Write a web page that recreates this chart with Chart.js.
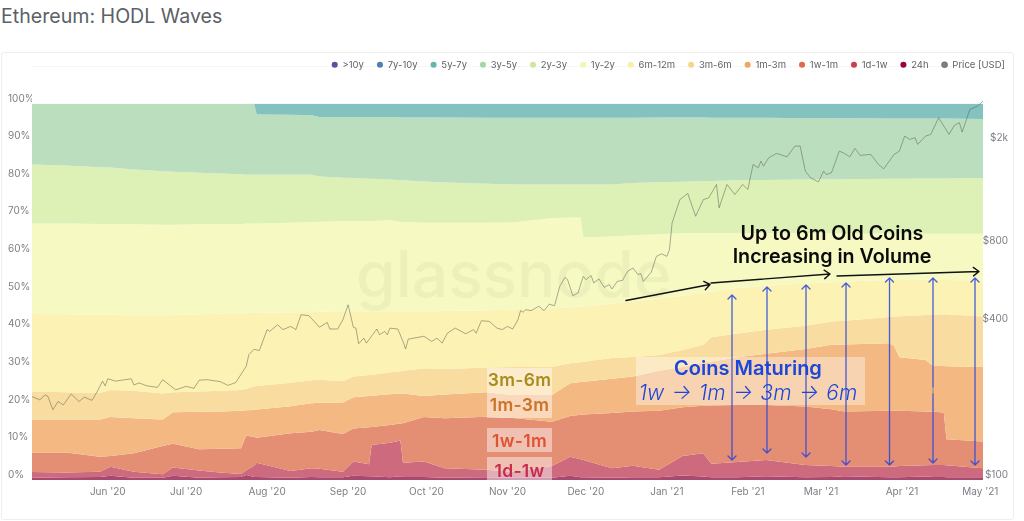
<!DOCTYPE html>
<html>
<head>
<meta charset="utf-8">
<title>Ethereum: HODL Waves</title>
<script src="https://cdn.jsdelivr.net/npm/chart.js@4"></script>
<style>
html,body{margin:0;padding:0;background:#fff;width:1024px;height:521px;overflow:hidden;font-family:Inter,sans-serif}
#title{position:absolute;left:1px;top:4px;font-size:19.6px;line-height:24px;color:#5b6067}
#panel{position:absolute;left:1px;top:52px;width:1011px;height:466px;border:1px solid #eeeeee;border-radius:3px}
#topline{position:absolute;left:32px;top:66px;width:951px;height:1px;background:#f6f6f6}
canvas{position:absolute;left:0;top:0}
#mark{position:absolute;left:356px;top:242px;font-size:64px;line-height:64px;font-weight:500;color:rgba(110,110,90,.07)}
.note{position:absolute;text-align:center;white-space:nowrap}
.black{font-weight:600;color:#0a0a0a;font-size:19.7px;line-height:23px;left:720px;width:224px}
.age{left:487px;width:65px;background:rgba(255,255,255,.45);font-weight:600;font-size:17.5px;letter-spacing:.3px}
#matureBox{position:absolute;left:636px;top:357px;width:229px;height:48px;background:rgba(255,255,255,.38)}
svg{position:absolute;left:0;top:0}
</style>
</head>
<body>
<div id="title">Ethereum: HODL Waves</div>
<div id="panel"></div>
<div id="topline"></div>
<canvas id="wavesChart" width="1024" height="521"></canvas>
<div id="mark">glassnode</div>
<div id="matureBox"></div>
<div class="note age" style="top:368px;height:24px;line-height:24px;color:#a98c1f">3m-6m</div>
<div class="note age" style="top:392px;height:26px;line-height:26px;color:#c8742b">1m-3m</div>
<div class="note age" style="top:428px;height:24px;line-height:26px;color:#df5332">1w-1m</div>
<div class="note age" style="top:457px;height:23px;line-height:27px;color:#c72c4c">1d-1w</div>
<svg id="arrows" width="1024" height="521" fill="none"></svg>
<div class="note black" style="top:222px">Up to 6m Old Coins</div>
<div class="note black" style="top:245px">Increasing in Volume</div>
<div class="note" style="left:636px;width:224px;top:356px;font-size:20px;line-height:24px;font-weight:600;color:#1c46d8">Coins Maturing</div>
<div class="note" style="left:636px;width:224px;top:380px;font-size:21px;line-height:26px;font-style:italic;font-weight:300;word-spacing:1.5px;color:#1c46d8">1w → 1m → 3m → 6m</div>

<script>
// days counted from 3 May 2020
const tickDays = [29,59,90,121,151,182,212,243,274,302,333,363]
const tickLabels = ["Jun '20","Jul '20","Aug '20","Sep '20","Oct '20","Nov '20","Dec '20","Jan '21","Feb '21","Mar '21","Apr '21","May '21"]
const percentTicks = [0,10,20,30,40,50,60,70,80,90,100]
const priceTicks = [100,400,800,2000]
const priceTickLabels = ["$100","$400","$800","$2k"]

const names = [">10y","7y-10y","5y-7y","3y-5y","2y-3y","1y-2y","6m-12m","3m-6m","1m-3m","1w-1m","1d-1w","24h"]

const days = [0,13,26,30,39,50,54,64,72,80,82,85,86,99,107,110,119,123,129,130,137,141,142,150,158,174,184,199,206,210,211,222,230,240,249,257,260,270,281,296,306,311,328,330,332,342,345,349,350,364]

// upper edge of each band, in percent of supply
const fullDays = [0,364]
const top5y7y = [100,100]
const top3y5y = [100,100,100,100,100,100,100,100,100,100,100,100,97.1,97,96.9,96.4,96.4,96.4,96.4,96.4,96.4,96.3,96.3,96.3,96.3,96.2,96.2,96.2,96.2,96.2,96.2,96.2,96.2,96.3,96.3,96.3,96.2,96.2,96.2,96.1,96.1,96.1,96,96,96,96,96,96,96,95.9]
const top2y3y = [83.8,83.5,83.1,83,82.5,82,81.9,81.6,81.4,81.2,81.1,81.1,81.1,81.1,81.1,80.6,80.3,80.2,80,80,79.8,79.6,79.6,79.3,79,78.7,78.5,78.5,78.5,78.5,78.5,78.5,78.9,79.1,79.2,79.4,79.4,79.6,79.7,79.8,79.9,79.9,80,80,80,80.1,80.1,80.1,80.1,80.2]
const top1y2y = [68.1,68.1,68,68,67.9,67.8,67.8,67.9,68,68,68.1,68.1,68.1,68.3,68.5,68.6,68.7,68.7,68.8,68.8,69,68.6,68.5,68.3,68.3,68.3,68.4,69.6,69.7,69.7,64.5,64.7,65,65.3,65.6,65.6,65.6,65.6,65.6,65.6,65.6,65.5,65.5,65.5,65.5,65.4,65.4,65.4,65.4,65.4]
const top6m12m = [44.1,44,43.9,43.9,43.7,43.7,43.8,44,44.2,44.3,44.3,44.4,44.4,44.5,44.7,44.7,44.8,44.8,44.8,44.8,44.8,44.8,44.8,44.8,44.9,45.1,45.3,45.6,45.9,46.1,46.1,46.9,47.5,48.2,48.9,49.7,50,50.9,51.6,52.2,52.5,52.7,53.1,53.1,53.1,53.2,53.1,53.1,53.1,53]
const top3m6m = [23.5,23.3,23.1,23.9,23.7,23,23.3,23.5,23.7,23.9,24.2,24.9,25,25.8,26.5,26.6,26.2,27.5,27.9,27.9,28.6,28.9,29,29.7,29.5,29.9,30,30.1,31,31.3,31.4,32.4,32.7,33.2,34.5,35.9,37.9,38.9,39.9,41,42.1,42.3,43.3,43.4,43.5,43.8,43.9,44,44,43.4]
const top1m3m = [16.1,16.1,16.1,16.7,16.4,16.1,18,18.1,18.2,18.4,18.5,18.6,18.7,19.6,20.4,20.5,20.6,22,22.3,22.4,22.8,23,23,22.3,22.7,23.3,22.6,22.6,25.7,26,26.1,26.9,27.5,29,30,31.2,31.5,32.6,33.5,34.8,35.9,36,36.3,35.6,32.6,31.9,30.3,30.3,30.2,30]
const top1w1m = [7.3,7.3,6.2,6.4,7.1,9,9.6,8.2,8.3,8.4,11.8,11.4,11.2,12.4,12.8,13.3,12.2,13.7,14,14.1,14.6,15,15.1,16.7,16.4,16.8,16.5,15.5,17,17.3,17.4,17.8,18.2,18.4,19.3,19.7,19.8,19.9,19.9,19.5,18.8,18.2,18.4,18.4,18.4,18.2,18.1,17.9,10.8,10.2]
const top1d1w = [2.1,2,2.2,3.5,2.2,1.5,3.3,2.5,2,1.6,2.6,3.8,4.6,2.4,3.1,3,2.2,4.9,4.2,9.3,9.9,10.5,4.6,4.9,3.1,2.7,2.2,3.7,6.2,5.5,5.3,3.1,3.8,2.7,6.4,7.1,4.3,4.8,5.3,4,3.7,3.5,3.5,3.6,3.7,3.9,4,4,3.9,3.1]
const top24h = [.6,.7,.8,1.1,.6,.6,1.1,.6,.7,.8,1.3,.8,.8,.6,.8,.7,.7,1.1,1,1,.7,1,.8,.8,.6,.7,.6,.6,1.1,.7,.7,.6,.7,.7,1.2,.9,.7,.7,1,.7,.8,1,.7,.7,.7,.9,.8,.8,.7,.7]

const priceDays = [0,3,5,6,8,10,12,15,18,20,23,25,27,28,29,32,38,39,41,44,48,50,55,59,62,64,67,72,75,78,82,83,85,87,90,91,94,96,99,101,103,106,108,110,113,114,117,119,121,123,124,125,127,128,132,133,135,136,137,140,142,143,144,150,153,155,157,159,162,166,169,170,172,175,178,180,182,184,186,187,188,189,191,194,196,198,200,202,204,205,207,209,211,212,214,215,217,219,221,222,224,226,228,230,232,233,234,237,239,241,243,244,245,248,251,254,257,259,262,263,266,269,272,274,276,278,279,280,282,285,289,292,294,296,298,301,303,304,306,309,311,313,315,317,321,324,326,330,332,334,336,338,339,342,344,347,351,353,355,356,359,362,364,365]
const priceUsd = [210,204,213,211,187,201,195,215,201,209,203,220,241,231,246,241,246,233,237,231,228,244,223,230,226,243,244,240,232,238,275,305,320,316,381,375,398,381,392,381,435,431,410,389,406,383,383,416,475,389,386,336,353,338,383,364,375,364,386,383,343,321,350,359,343,353,338,369,386,367,381,369,412,410,386,381,392,383,416,451,445,455,451,469,451,478,471,560,606,594,515,528,612,594,616,577,598,555,568,547,585,590,640,659,621,627,585,634,731,747,731,776,984,1212,1278,1044,1212,1229,1385,1125,1385,1267,1385,1325,1655,1607,1705,1630,1757,1825,1772,1949,1949,1560,1470,1418,1560,1514,1537,1864,1825,1772,1909,1794,1810,1655,1592,1810,1864,2130,2067,2099,1978,2130,2161,2508,2161,2342,2400,2207,2700,2782,2909,2970]

const dotColors = ["#5e4fa2","#4a80b4","#66b5ae","#a3d8a6","#cde8a0","#f0f8b2","#fbeea6","#f9d38a","#f1a562","#e26a4b","#c9414f","#9e0142"]
const bandColors = [null,null,"#83c2bf","#bbdfbe","#ddf0b6","#f6fac2","#fcf2b3","#f9dda0","#f4b883","#e48f73","#cd6a7e","#a84a70"]

function points(xs, ys){
  return xs.map((x,i)=>({x:x,y:ys[i]}))
}

function band(i, xs, ys, target){
  return {
    label:names[i],
    data:points(xs,ys),
    yAxisID:"y",
    backgroundColor:dotColors[i],
    borderColor:dotColors[i],
    borderWidth:0,
    pointRadius:0,
    pointStyle:"circle",
    tension:0,
    fill:target ? {target:target,above:bandColors[i],below:bandColors[i]} : false
  }
}

const datasets = [
  band(0,[],[],false),
  band(1,[],[],false),
  band(2,fullDays,top5y7y,"+1"),
  band(3,days,top3y5y,"+1"),
  band(4,days,top2y3y,"+1"),
  band(5,days,top1y2y,"+1"),
  band(6,days,top6m12m,"+1"),
  band(7,days,top3m6m,"+1"),
  band(8,days,top1m3m,"+1"),
  band(9,days,top1w1m,"+1"),
  band(10,days,top1d1w,"+1"),
  band(11,days,top24h,"origin"),
  {
    label:"Price [USD]",
    data:points(priceDays,priceUsd),
    yAxisID:"y1",
    borderColor:"rgba(95,95,85,.65)",
    backgroundColor:"#7d7d7d",
    borderWidth:.8,
    pointRadius:0,
    pointStyle:"circle",
    tension:0,
    fill:false,
    clip:false
  }
]

// legend sits well above the plot in the original, so pad it
const legendGap = {
  id:"legendGap",
  beforeInit(chart){
    const fit = chart.legend.fit
    chart.legend.fit = function(){
      fit.call(this)
      this.height += 24
    }
  },
  afterLayout(chart){
    chart.legend.right += 10
  }
}

const tickColor = "#7b7f85"
const tickFont = {family:"Inter",size:10}

new Chart(document.getElementById("wavesChart"),{
  type:"line",
  data:{datasets:datasets},
  plugins:[legendGap],
  options:{
    responsive:false,
    animation:false,
    events:[],
    layout:{padding:{left:8,right:16,top:47,bottom:21}},
    plugins:{
      tooltip:{enabled:false},
      filler:{drawTime:"beforeDatasetsDraw"},
      legend:{
        position:"top",
        align:"end",
        labels:{
          usePointStyle:true,
          boxWidth:6,
          boxHeight:4.3,
          padding:13,
          color:"#5f6368",
          font:{family:"Inter",size:9.5}
        }
      }
    },
    scales:{
      x:{
        type:"linear",
        min:0,
        max:364,
        grid:{display:false,drawTicks:false},
        border:{display:false},
        afterBuildTicks(scale){ scale.ticks = tickDays.map(v=>({value:v})) },
        afterFit(scale){ scale.height = 20 },
        ticks:{
          color:tickColor,
          font:tickFont,
          padding:6,
          autoSkip:false,
          maxRotation:0,
          callback:v=>tickLabels[tickDays.indexOf(v)]
        }
      },
      y:{
        position:"left",
        min:0,
        max:100,
        grid:{display:false,drawTicks:false},
        border:{display:false},
        afterBuildTicks(scale){ scale.ticks = percentTicks.map(v=>({value:v})) },
        afterFit(scale){ scale.width = 24 },
        ticks:{
          color:tickColor,
          font:tickFont,
          align:"end",
          crossAlign:"far",
          padding:0,
          callback:v=>v+"%"
        }
      },
      y1:{
        type:"logarithmic",
        position:"right",
        min:100,
        max:2846,
        grid:{display:false,drawTicks:false},
        border:{display:false},
        afterBuildTicks(scale){ scale.ticks = priceTicks.map(v=>({value:v})) },
        afterFit(scale){ scale.width = 25 },
        ticks:{
          color:tickColor,
          font:tickFont,
          align:"end",
          crossAlign:"far",
          padding:0,
          autoSkip:false,
          callback:v=>priceTickLabels[priceTicks.indexOf(v)]
        }
      }
    }
  }
})

// hand-drawn annotations from the original, screen coordinates
const blackArrows = [[626,300.5,710,284.5],[711,283,830,274],[837,276,979,271.5]]
const blueArrows = [[732,295,460],[767,287,453],[806,285,457],[846,283,465],[889.5,278,465],[933,278,463],[975,278,465]]

function addPath(d, color, width){
  const p = document.createElementNS("http://www.w3.org/2000/svg","path")
  p.setAttribute("d",d)
  p.setAttribute("stroke",color)
  p.setAttribute("stroke-width",width)
  p.setAttribute("stroke-linecap","round")
  p.setAttribute("stroke-linejoin","round")
  document.getElementById("arrows").appendChild(p)
}

blueArrows.forEach(a=>{
  const x=a[0], top=a[1], bottom=a[2]
  addPath(`M${x} ${top}V${bottom}M${x-4} ${top+4}L${x} ${top}L${x+4} ${top+4}M${x-4} ${bottom-4}L${x} ${bottom}L${x+4} ${bottom-4}`,"rgba(38,68,222,.85)",1.3)
})
addPath("M933 388V393","#d9b36a",1.4)

blackArrows.forEach(a=>{
  const ang=Math.atan2(a[3]-a[1],a[2]-a[0]), s=7
  const hx1=a[2]-s*Math.cos(ang-.65), hy1=a[3]-s*Math.sin(ang-.65)
  const hx2=a[2]-s*Math.cos(ang+.65), hy2=a[3]-s*Math.sin(ang+.65)
  addPath(`M${a[0]} ${a[1]}L${a[2]} ${a[3]}M${hx1} ${hy1}L${a[2]} ${a[3]}L${hx2} ${hy2}`,"#111",1.4)
})
</script>
</body>
</html>
